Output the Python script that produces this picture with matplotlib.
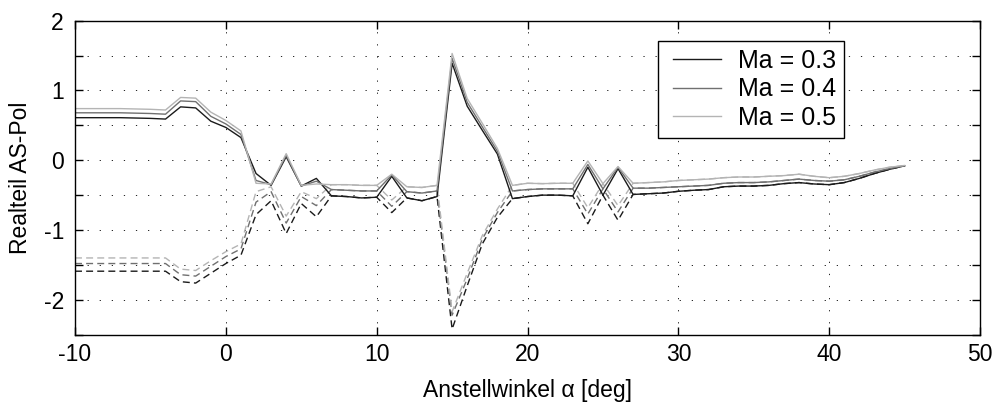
import matplotlib.pyplot as plt
from matplotlib.legend_handler import HandlerLine2D
import numpy as np

plt.rcParams['font.family'] = ['Liberation Sans', 'DejaVu Sans']
plt.rcParams['axes.unicode_minus'] = False

# angle of attack [deg]
alpha = list(range(-10, 46))

# real part of the first pole (solid lines)
pole1_ma03 = [0.61, 0.61, 0.61, 0.61, 0.605, 0.60, 0.59, 0.765, 0.75, 0.56,
              0.47, 0.325, -0.19, -0.36, 0.05, -0.37, -0.26, -0.51, -0.52, -0.54,
              -0.53, -0.23, -0.54, -0.58, -0.52, 1.39, 0.775, 0.43, 0.09, -0.55,
              -0.52, -0.50, -0.50, -0.51, -0.10, -0.50, -0.12, -0.49, -0.48, -0.47,
              -0.445, -0.43, -0.42, -0.38, -0.37, -0.37, -0.36, -0.335, -0.32, -0.34,
              -0.35, -0.32, -0.26, -0.19, -0.13, -0.08]
pole1_ma04 = [0.68, 0.68, 0.68, 0.68, 0.675, 0.67, 0.66, 0.85, 0.84, 0.63,
              0.52, 0.37, -0.29, -0.35, 0.07, -0.37, -0.30, -0.42, -0.43, -0.44,
              -0.44, -0.21, -0.45, -0.47, -0.44, 1.46, 0.83, 0.48, 0.13, -0.44,
              -0.42, -0.41, -0.41, -0.41, -0.06, -0.41, -0.10, -0.40, -0.40, -0.39,
              -0.38, -0.37, -0.36, -0.33, -0.32, -0.32, -0.31, -0.29, -0.27, -0.29,
              -0.30, -0.28, -0.23, -0.17, -0.12, -0.08]
pole1_ma05 = [0.74, 0.74, 0.74, 0.74, 0.735, 0.73, 0.72, 0.90, 0.89, 0.69,
              0.57, 0.42, -0.33, -0.34, 0.095, -0.36, -0.34, -0.35, -0.35, -0.36,
              -0.36, -0.20, -0.38, -0.39, -0.36, 1.53, 0.885, 0.53, 0.17, -0.36,
              -0.33, -0.335, -0.33, -0.33, -0.01, -0.335, -0.09, -0.33, -0.32, -0.31,
              -0.29, -0.28, -0.27, -0.25, -0.24, -0.24, -0.23, -0.22, -0.20, -0.23,
              -0.25, -0.23, -0.19, -0.14, -0.10, -0.075]

# real part of the second pole (dashed); nan = same as first pole
nan = np.nan
pole2_ma03 = [-1.59, -1.59, -1.59, -1.59, -1.59, -1.59, -1.59, -1.74, -1.76, -1.62,
              -1.48, -1.36, -0.78, -0.58, -1.05, -0.62, -0.81, nan, nan, nan,
              nan, -0.75, nan, nan, nan, -2.42, -1.80, -1.20, -0.82, nan,
              nan, nan, nan, nan, -0.91, nan, -0.86, nan, nan, nan,
              nan, nan, nan, nan, nan, nan, nan, nan, nan, nan,
              nan, nan, nan, nan, nan, nan]
pole2_ma04 = [-1.48, -1.48, -1.48, -1.48, -1.48, -1.48, -1.48, -1.64, -1.66, -1.52,
              -1.38, -1.27, -0.60, -0.45, -0.90, -0.52, -0.65, nan, nan, nan,
              nan, -0.66, nan, nan, nan, -2.22, -1.70, -1.13, -0.75, nan,
              nan, nan, nan, nan, -0.77, nan, -0.74, nan, nan, nan,
              nan, nan, nan, nan, nan, nan, nan, nan, nan, nan,
              nan, nan, nan, nan, nan, nan]
pole2_ma05 = [-1.40, -1.40, -1.40, -1.40, -1.40, -1.40, -1.40, -1.56, -1.58, -1.44,
              -1.31, -1.20, -0.45, -0.38, -0.80, -0.45, -0.55, nan, nan, nan,
              nan, -0.57, nan, nan, nan, -2.17, -1.62, -1.08, -0.70, nan,
              nan, nan, nan, nan, -0.68, nan, -0.65, nan, nan, nan,
              nan, nan, nan, nan, nan, nan, nan, nan, nan, nan,
              nan, nan, nan, nan, nan, nan]

labels = ['Ma = 0.3', 'Ma = 0.4', 'Ma = 0.5']
colors = ['#1a1a1a', '#707070', '#b4b4b4']
fs = 16.5

fig = plt.figure(figsize=(9.99, 4.12), dpi=100)
ax = fig.add_axes([0.0751, 0.1876, 0.9059, 0.7622])

first = [pole1_ma03, pole1_ma04, pole1_ma05]
second = [pole2_ma03, pole2_ma04, pole2_ma05]

# dashed first so the solid lines sit on top where the poles coincide
for p1, p2, c in zip(first, second, colors):
    p2 = np.where(np.isnan(p2), p1, p2)
    ax.plot(alpha, p2, color=c, lw=1.0, dashes=(5, 3))
lines = []
for p1, c, lab in zip(first, colors, labels):
    ln, = ax.plot(alpha, p1, color=c, lw=1.0, label=lab)
    lines.append(ln)

ax.set_xlim(-10, 50)
ax.set_ylim(-2.5, 2)
ax.set_xticks(np.arange(-10, 51, 10))
yt = np.arange(-2.5, 2.01, 0.5)
ax.set_yticks(yt)
ax.set_yticklabels(['%d' % v if v == int(v) else '' for v in yt])
ax.tick_params(direction='in', top=True, right=True, length=6, width=1,
               labelsize=fs, colors='black')
ax.tick_params(axis='x', pad=6)
ax.tick_params(axis='y', pad=8)
ax.grid(True, color='black', lw=0.6, linestyle=(0, (1.5, 13)))
for s in ax.spines.values():
    s.set_linewidth(1.0)

ax.set_xlabel('Anstellwinkel α [deg]', fontsize=fs, labelpad=9)
ax.set_ylabel('Realteil AS-Pol', fontsize=fs, labelpad=8)

leg = ax.legend(handles=lines, loc='upper left', bbox_to_anchor=(0.644, 0.936),
                fontsize=18, handlelength=2.2, handletextpad=0.7,
                labelspacing=0.18, borderpad=0.32, borderaxespad=0,
                fancybox=False, framealpha=1, edgecolor='black',
                handler_map={ln: HandlerLine2D(xpad=0.3) for ln in lines})
leg.get_frame().set_linewidth(1.0)

fig.savefig('out.png', dpi=100)
